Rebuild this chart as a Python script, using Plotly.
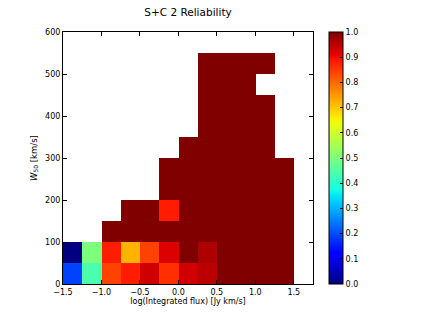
import numpy as np
import plotly.graph_objects as go

# bin edges (log integrated flux, W50)
x_edges = [-1.5, -1.25, -1.0, -0.75, -0.5, -0.25, 0.0, 0.25, 0.5, 0.75, 1.0, 1.25, 1.5]
y_edges = [0, 50, 100, 150, 200, 250, 300, 350, 400, 450, 500, 550, 600]
N = None
# reliability per bin: rows = W50 bins (bottom to top), cols = flux bins (left to right)
reliability = [
    [0.19, 0.44, 0.84, 0.88, 0.93, 0.86, 0.93, 0.95, 1.0, 1.0, 1.0, 1.0],
    [0.00, 0.50, 0.88, 0.72, 0.84, 0.92, 1.0, 0.96, 1.0, 1.0, 1.0, 1.0],
    [N, N, 1.0, 1.0, 1.0, 1.0, 1.0, 1.0, 1.0, 1.0, 1.0, 1.0],
    [N, N, N, 1.0, 1.0, 0.88, 1.0, 1.0, 1.0, 1.0, 1.0, 1.0],
    [N, N, N, N, N, 1.0, 1.0, 1.0, 1.0, 1.0, 1.0, 1.0],
    [N, N, N, N, N, 1.0, 1.0, 1.0, 1.0, 1.0, 1.0, 1.0],
    [N, N, N, N, N, N, 1.0, 1.0, 1.0, 1.0, 1.0, N],
    [N, N, N, N, N, N, N, 1.0, 1.0, 1.0, 1.0, N],
    [N, N, N, N, N, N, N, 1.0, 1.0, 1.0, 1.0, N],
    [N, N, N, N, N, N, N, 1.0, 1.0, 1.0, N, N],
    [N, N, N, N, N, N, N, 1.0, 1.0, 1.0, 1.0, N],
    [N, N, N, N, N, N, N, N, N, N, N, N],
]
x_tickvals = [-1.5, -1.0, -0.5, 0.0, 0.5, 1.0, 1.5]
x_ticktext = ["\u22121.5", "\u22121.0", "\u22120.5", "0.0", "0.5", "1.0", "1.5"]
y_tickvals = [0, 100, 200, 300, 400, 500, 600]
cb_tickvals = [0.0, 0.1, 0.2, 0.3, 0.4, 0.5, 0.6, 0.7, 0.8, 0.9, 1.0]

# matplotlib "jet" colormap
_r = [(0, 0), (0.35, 0), (0.66, 1), (0.89, 1), (1, 0.5)]
_g = [(0, 0), (0.125, 0), (0.375, 1), (0.64, 1), (0.91, 0), (1, 0)]
_b = [(0, 0.5), (0.11, 1), (0.34, 1), (0.65, 0), (1, 0)]
def _ch(seg, v):
    return np.interp(v, [p[0] for p in seg], [p[1] for p in seg])
stops = sorted(set([p[0] for p in _r + _g + _b]))
jet = []
for v in stops:
    jet.append([v, "rgb(%d,%d,%d)" % (round(255 * _ch(_r, v)), round(255 * _ch(_g, v)), round(255 * _ch(_b, v)))])

xc = [(x_edges[i] + x_edges[i + 1]) / 2 for i in range(len(x_edges) - 1)]
yc = [(y_edges[i] + y_edges[i + 1]) / 2 for i in range(len(y_edges) - 1)]

font = "DejaVu Sans"
L, R, T, B = 63, 108, 32, 32
W, H = 421, 316
pw = W - L - R
fig = go.Figure(go.Heatmap(
    x=xc, y=yc, z=reliability, zmin=0, zmax=1, colorscale=jet,
    hoverongaps=False,
    colorbar=dict(
        x=(329 - L) / pw, xanchor="left", xref="paper", xpad=0, ypad=0,
        y=0, yanchor="bottom", len=1,
        lenmode="fraction", thickness=14, thicknessmode="pixels",
        outlinewidth=1, outlinecolor="black",
        tickvals=cb_tickvals, ticktext=["%.1f" % v for v in cb_tickvals],
        ticks="inside", ticklen=3, tickcolor="black",
        tickfont=dict(family=font, size=8, color="black"),
    ),
))

axis_common = dict(
    showline=True, linecolor="black", linewidth=1, mirror="ticks",
    ticks="inside", ticklen=4, tickcolor="black", showgrid=False, zeroline=False,
    tickfont=dict(family=font, size=8, color="black"),
)
fig.update_layout(
    width=W, height=H, paper_bgcolor="white", plot_bgcolor="white",
    margin=dict(l=L, r=R, t=T, b=B),
    title=dict(text="S+C 2 Reliability", x=(L + L + pw) / 2 / W, xanchor="center",
               y=1 - 12 / H, yanchor="middle", font=dict(family=font, size=10.5, color="black")),
    xaxis=dict(range=[-1.5, 1.75], tickvals=x_tickvals, ticktext=x_ticktext,
               title=dict(text="log(Integrated flux) [Jy km/s]", standoff=0,
                          font=dict(family=font, size=8, color="black")),
               **axis_common),
    yaxis=dict(range=[0, 600], tickvals=y_tickvals,
               title=dict(text="<i>W</i><sub>50</sub> [km/s]", standoff=6,
                          font=dict(family=font, size=8.5, color="black")),
               **axis_common),
)
fig.write_html("out.html", post_script="document.body.style.margin='0';",
               config={"displayModeBar": False})
